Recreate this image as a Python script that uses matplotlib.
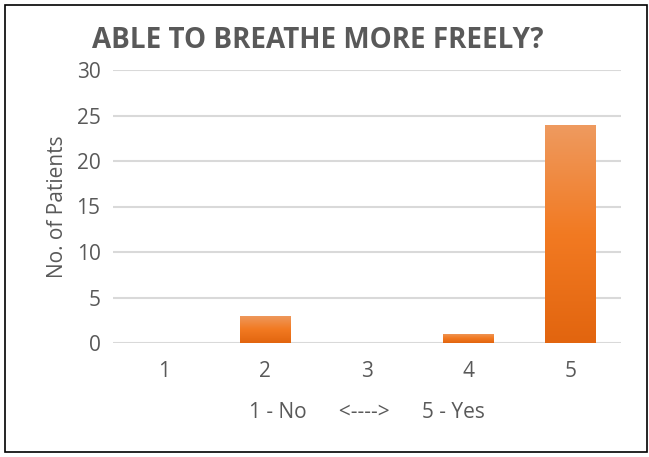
import numpy as np
import matplotlib.pyplot as plt
from matplotlib.colors import LinearSegmentedColormap
from matplotlib.patches import Rectangle

# Chart data
categories = [1, 2, 3, 4, 5]
patients = [0, 3, 0, 1, 24]
yticks = [0, 5, 10, 15, 20, 25, 30]

plt.rcParams['font.family'] = ['Open Sans', 'DejaVu Sans']
text_color = '#595959'

fig = plt.figure(figsize=(6.49, 4.57), dpi=100)
ax = fig.add_axes([113 / 649, 1 - 343 / 457, (621 - 113) / 649, (343 - 70) / 457])

# border round the whole chart
fig.patches.append(Rectangle((5 / 649, 5 / 457), 642 / 649, 447 / 457, transform=fig.transFigure,
                             fill=False, edgecolor='#000000', linewidth=1.2))

bars = ax.bar(categories, patients, width=0.5, color='#F07A22', zorder=3)

# vertical gradient in each bar, darker at the bottom
grad = LinearSegmentedColormap.from_list('g', ['#E2650F', '#F27A22', '#EE9A5F'])
for b in bars:
    h = b.get_height()
    if h <= 0:
        continue
    x0 = b.get_x()
    w = b.get_width()
    img = ax.imshow(np.linspace(0, 1, 100).reshape(-1, 1), cmap=grad, origin='lower',
                    extent=[x0, x0 + w, 0, h], aspect='auto', zorder=4)
    img.set_clip_path(b)

ax.set_xlim(0.5, 5.5)
ax.set_ylim(0, 30)
ax.set_yticks(yticks)
ax.set_xticks(categories)
ax.grid(axis='y', color='#D9D9D9', linewidth=1.5, zorder=0)
ax.set_axisbelow(True)
for s in ax.spines.values():
    s.set_visible(False)
ax.tick_params(length=0, labelsize=15, colors=text_color, pad=9)
ax.tick_params(axis='x', pad=13)

ax.set_xlabel('1 - No      <---->      5 - Yes', fontsize=15, color=text_color, labelpad=14)
ax.set_ylabel('No. of Patients', fontsize=15, color=text_color, labelpad=6)
fig.text(318 / 649, 1 - 40 / 457, 'ABLE TO BREATHE MORE FREELY?', fontsize=20, fontweight='bold',
         color=text_color, ha='center', va='center')

fig.savefig('out.png', dpi=100)
